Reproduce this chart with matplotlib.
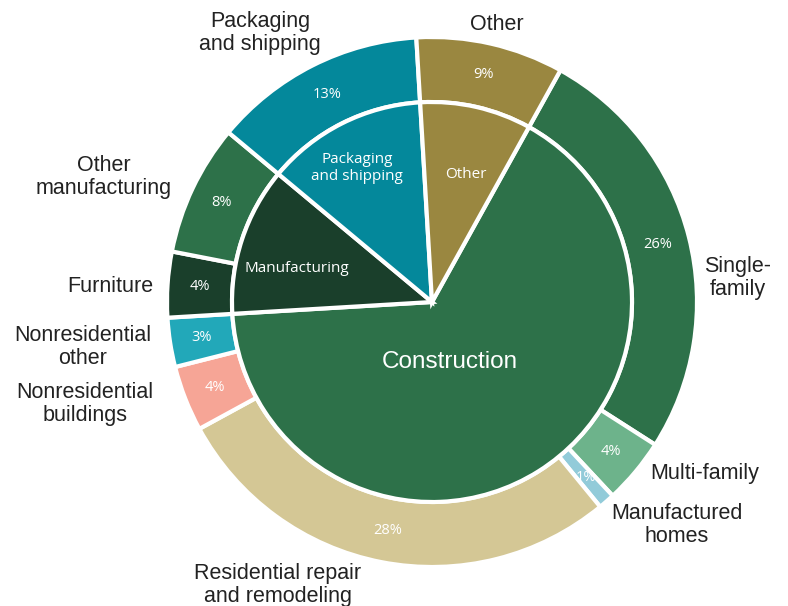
import matplotlib
matplotlib.use("Agg")
import matplotlib.pyplot as plt

# inner ring: sectors
sectors = ["Construction", "Manufacturing", "Packaging\nand shipping", "Other"]
sector_vals = [66, 12, 13, 9]
sector_colors = ["#2d7149", "#1a3f2b", "#04889b", "#9a8740"]

# outer ring: end uses
uses = ["Single-\nfamily", "Multi-family", "Manufactured\nhomes",
        "Residential repair\nand remodeling", "Nonresidential\nbuildings",
        "Nonresidential\nother", "Furniture", "Other\nmanufacturing",
        "Packaging\nand shipping", "Other"]
use_vals = [26, 4, 1, 28, 4, 3, 4, 8, 13, 9]
use_colors = ["#2d7149", "#6db38b", "#92cbd9", "#d4c795", "#f6a596",
              "#22a8b9", "#1a3f2b", "#2d7149", "#04889b", "#9a8740"]

W, H = 788, 606
fig = plt.figure(figsize=(W / 100, H / 100), dpi=100)
ax = fig.add_axes([0, 0, 1, 1])

cx, cy = 432, H - 302
R_out, R_in = 265, 200
start = 61
edge = dict(edgecolor="white", linewidth=3)

ax.pie(use_vals, colors=use_colors, radius=R_out, center=(cx, cy),
       startangle=start, counterclock=False, autopct="%d%%",
       pctdistance=233 / R_out,
       wedgeprops=dict(width=R_out - R_in, **edge),
       textprops=dict(color="white", fontsize=10.5, family="Open Sans"),
       frame=True)
ax.pie(sector_vals, colors=sector_colors, radius=R_in, center=(cx, cy),
       startangle=start, counterclock=False, wedgeprops=edge, frame=True)
ax.set_xlim(0, W)
ax.set_ylim(0, H)
ax.set_aspect("equal")
ax.axis("off")


def txt(x, y, s, size=15.5, color="#222222", family="Liberation Sans", **kw):
    ax.text(x, H - y, s, fontsize=size, color=color, family=family,
            ha="center", va="center", linespacing=1.1, **kw)


# inner labels
txt(450, 362, sectors[0], size=17.5, color="white")
txt(297, 269, sectors[1], size=11, color="white", family="Open Sans")
txt(357, 168, sectors[2], size=11, color="white", family="Open Sans")
txt(466, 175, sectors[3], size=11, color="white", family="Open Sans")

# outer labels
outer_pos = [(738, 278), (705, 474), (677, 525), (278, 585), (85, 404),
             (83, 347), (110, 287), (104, 177), (260, 33), (497, 25)]
for (x, y), name in zip(outer_pos, uses):
    txt(x, y, name)

fig.savefig("out.png", dpi=100)
